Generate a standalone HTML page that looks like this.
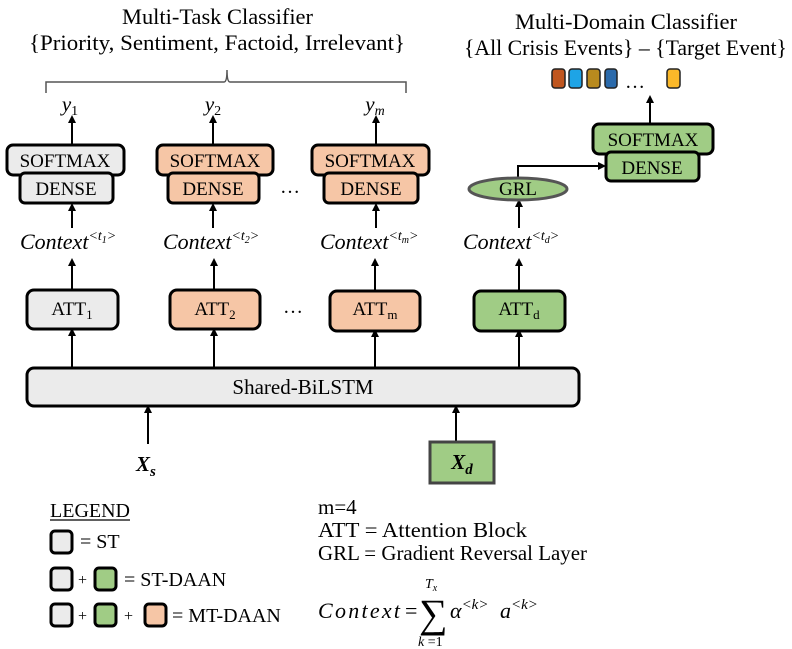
<!DOCTYPE html>
<html><head><meta charset="utf-8"><style>
html,body{margin:0;padding:0;background:#fff;}
svg{display:block;font-family:"Liberation Serif","DejaVu Serif",serif;}
</style></head><body>
<svg width="792" height="649" viewBox="0 0 792 649" xmlns="http://www.w3.org/2000/svg">
<defs>
<marker id="a" markerWidth="8" markerHeight="8" refX="4" refY="4" orient="auto" markerUnits="userSpaceOnUse"><path d="M0,0 L8,4 L0,8 z" fill="#000"/></marker>
</defs>
<g font-size="22" fill="#000">
<text x="122" y="24" textLength="191" lengthAdjust="spacingAndGlyphs">Multi-Task Classifier</text>
<text x="29" y="50" textLength="376" lengthAdjust="spacingAndGlyphs">{Priority, Sentiment, Factoid, Irrelevant}</text>
<text x="515" y="29" textLength="222" lengthAdjust="spacingAndGlyphs">Multi-Domain Classifier</text>
<text x="464" y="55" textLength="323" lengthAdjust="spacingAndGlyphs">{All Crisis Events} – {Target Event}</text>
</g>
<path d="M46,93 V82 H224 Q227,82 227,70 Q227,82 230,82 H406 V93" fill="none" stroke="#555" stroke-width="1.5"/>
<g font-style="italic" font-size="21" text-anchor="middle">
<text x="70" y="111">y<tspan font-size="14" font-style="normal" dy="4">1</tspan></text>
<text x="213" y="111">y<tspan font-size="14" font-style="normal" dy="4">2</tspan></text>
<text x="375" y="111">y<tspan font-size="14" dy="4">m</tspan></text>
</g>
<g stroke="#000" stroke-width="2" marker-end="url(#a)">
<line x1="72" y1="146" x2="72" y2="119"/>
<line x1="213" y1="146" x2="213" y2="119"/>
<line x1="376" y1="146" x2="376" y2="119"/>
<line x1="650" y1="124" x2="650" y2="99"/>
<line x1="72" y1="228" x2="72" y2="207"/>
<line x1="213" y1="228" x2="213" y2="207"/>
<line x1="376" y1="228" x2="376" y2="207"/>
<line x1="519" y1="228" x2="519" y2="203"/>
<line x1="72" y1="290" x2="72" y2="262"/>
<line x1="214" y1="290" x2="214" y2="262"/>
<line x1="375" y1="290" x2="375" y2="262"/>
<line x1="519" y1="290" x2="519" y2="262"/>
<line x1="72" y1="368" x2="72" y2="332"/>
<line x1="214" y1="368" x2="214" y2="332"/>
<line x1="375" y1="368" x2="375" y2="333"/>
<line x1="519" y1="368" x2="519" y2="333"/>
<line x1="148" y1="444" x2="148" y2="409"/>
<line x1="456" y1="442" x2="456" y2="409"/>
<polyline points="518,178 518,166 602,166" fill="none"/>
</g>
<g stroke="#000" stroke-width="3">
<rect x="7" y="145" width="117" height="30" rx="6" fill="#ebebeb"/>
<rect x="20" y="173" width="93" height="30" rx="5" fill="#ebebeb"/>
<rect x="157" y="145" width="116" height="30" rx="6" fill="#f6c6a6"/>
<rect x="168" y="173" width="91" height="30" rx="5" fill="#f6c6a6"/>
<rect x="312" y="145" width="117" height="30" rx="6" fill="#f6c6a6"/>
<rect x="324" y="173" width="94" height="30" rx="5" fill="#f6c6a6"/>
<rect x="593" y="124" width="120" height="30" rx="6" fill="#a0cc85"/>
<rect x="606" y="152" width="93" height="29" rx="5" fill="#a0cc85"/>
<ellipse cx="518" cy="189" rx="49" ry="11" fill="#a0cc85" stroke="#555"/>
<rect x="27" y="290" width="91" height="39" rx="7" fill="#ebebeb"/>
<rect x="170" y="290" width="90" height="39" rx="7" fill="#f6c6a6"/>
<rect x="330" y="291" width="90" height="40" rx="7" fill="#f6c6a6"/>
<rect x="474" y="291" width="91" height="40" rx="7" fill="#a0cc85"/>
<rect x="27" y="368" width="552" height="38" rx="7" fill="#ebebeb"/>
<rect x="430" y="442" width="64" height="41" fill="#a0cc85" stroke="#444"/>
</g>
<g font-size="19" text-anchor="middle">
<text x="65" y="167">SOFTMAX</text><text x="66" y="195">DENSE</text>
<text x="215" y="167">SOFTMAX</text><text x="213" y="195">DENSE</text>
<text x="370" y="167">SOFTMAX</text><text x="371" y="195">DENSE</text>
<text x="653" y="146">SOFTMAX</text><text x="652" y="174">DENSE</text>
<text x="518" y="195">GRL</text>
<text x="72" y="315">ATT<tspan font-size="13" dy="4">1</tspan></text>
<text x="215" y="315">ATT<tspan font-size="13" dy="4">2</tspan></text>
<text x="375" y="315">ATT<tspan font-size="13" dy="4">m</tspan></text>
<text x="519" y="315">ATT<tspan font-size="13" dy="4">d</tspan></text>
<text x="303" y="394" font-size="21">Shared-BiLSTM</text>
<text x="290" y="193" font-size="20">…</text>
<text x="293" y="313" font-size="20">…</text>
<text x="635" y="88" font-size="20">…</text>
</g>
<g font-style="italic" font-size="22">
<text x="20" y="249">Context<tspan font-size="14" dy="-9">&lt;t</tspan><tspan font-size="10" dy="3">1</tspan><tspan font-size="14" dy="-3">&gt;</tspan></text>
<text x="163" y="249">Context<tspan font-size="14" dy="-9">&lt;t</tspan><tspan font-size="10" dy="3">2</tspan><tspan font-size="14" dy="-3">&gt;</tspan></text>
<text x="320" y="249">Context<tspan font-size="14" dy="-9">&lt;t</tspan><tspan font-size="10" dy="3">m</tspan><tspan font-size="14" dy="-3">&gt;</tspan></text>
<text x="463" y="249">Context<tspan font-size="14" dy="-9">&lt;t</tspan><tspan font-size="10" dy="3">d</tspan><tspan font-size="14" dy="-3">&gt;</tspan></text>
<text x="136" y="471" font-weight="bold" font-size="21">X<tspan font-size="15" dy="5">s</tspan></text>
<text x="462" y="469" font-weight="bold" font-size="21" text-anchor="middle">X<tspan font-size="15" dy="5">d</tspan></text>
</g>
<g stroke="#222" stroke-width="1.5">
<rect x="552" y="69" width="13" height="19" rx="3" fill="#c0561f"/>
<rect x="569" y="69" width="13" height="19" rx="3" fill="#1ea4e6"/>
<rect x="587" y="69" width="13" height="19" rx="3" fill="#b88a1e"/>
<rect x="605" y="69" width="12" height="19" rx="3" fill="#2b6aab"/>
<rect x="667" y="69" width="13" height="19" rx="3" fill="#fbb829"/>
</g>
<g font-size="20">
<text x="50" y="517" textLength="80" lengthAdjust="spacingAndGlyphs">LEGEND</text>
<line x1="50" y1="520" x2="130" y2="520" stroke="#000" stroke-width="1.2"/>
<text x="80" y="548">= ST</text>
<text x="78" y="585" font-size="16">+</text>
<text x="124" y="586">= ST-DAAN</text>
<text x="78" y="621" font-size="16">+</text>
<text x="124" y="621" font-size="16">+</text>
<text x="172" y="622">= MT-DAAN</text>
<text x="318" y="514" font-size="21">m=4</text>
<text x="318" y="537" font-size="21" textLength="209" lengthAdjust="spacingAndGlyphs">ATT = Attention Block</text>
<text x="318" y="560" font-size="21" textLength="269" lengthAdjust="spacingAndGlyphs">GRL = Gradient Reversal Layer</text>
</g>
<g stroke="#000" stroke-width="3">
<rect x="51" y="531" width="21" height="22" rx="4" fill="#ebebeb"/>
<rect x="51" y="568" width="21" height="22" rx="4" fill="#ebebeb"/>
<rect x="95" y="568" width="21" height="22" rx="4" fill="#a0cc85"/>
<rect x="51" y="604" width="21" height="22" rx="4" fill="#ebebeb"/>
<rect x="95" y="604" width="21" height="22" rx="4" fill="#a0cc85"/>
<rect x="145" y="604" width="21" height="22" rx="4" fill="#f6c6a6"/>
</g>
<g font-size="22">
<text x="318" y="618" font-style="italic" textLength="82" lengthAdjust="spacing">Context</text>
<text x="405" y="618">=</text>
<text x="419" y="627" font-size="40">∑</text>
<text x="425" y="588" font-size="14" font-style="italic">T<tspan font-size="10" dy="3">x</tspan></text>
<text x="418" y="646" font-size="14"><tspan font-style="italic">k</tspan> =1</text>
<text x="450" y="618" font-style="italic">α<tspan font-size="15" dy="-9">&lt;k&gt;</tspan></text>
<text x="500" y="618" font-style="italic">a<tspan font-size="15" dy="-9">&lt;k&gt;</tspan></text>
</g>
</svg>
</body></html>
